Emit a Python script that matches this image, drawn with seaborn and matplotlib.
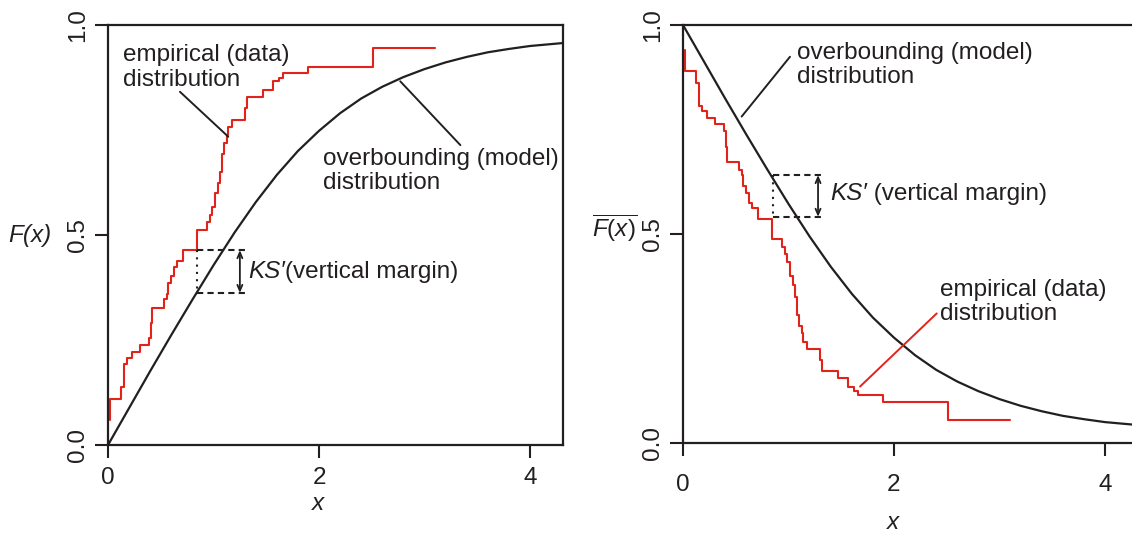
import numpy as np
import pandas as pd
import matplotlib
matplotlib.use("Agg")
import matplotlib.pyplot as plt
import seaborn as sns

# ---------------- data ----------------
model_x = [0.0, 0.2, 0.4, 0.6, 0.8, 1.0, 1.2, 1.4, 1.6, 1.8, 2.0, 2.2, 2.4,
           2.6, 2.8, 3.0, 3.2, 3.4, 3.6, 3.8, 4.0, 4.31]
model_F = [0.0, 0.088, 0.176, 0.262, 0.346, 0.428, 0.506, 0.578, 0.643, 0.700,
           0.748, 0.790, 0.825, 0.853, 0.876, 0.895, 0.911, 0.924, 0.935,
           0.943, 0.950, 0.957]

emp_x = [0.02, 0.02, 0.12, 0.152, 0.183, 0.23, 0.303, 0.392, 0.404, 0.42, 0.531,
         0.556, 0.572, 0.60, 0.626, 0.657, 0.708, 0.847, 0.941, 0.967, 0.989,
         1.014, 1.046, 1.06, 1.077, 1.10, 1.125, 1.14, 1.18, 1.30, 1.315, 1.472,
         1.561, 1.62, 1.656, 1.899, 2.515, 3.10]
emp_F = [0.06, 0.11, 0.139, 0.193, 0.206, 0.222, 0.237, 0.254, 0.291, 0.327,
         0.347, 0.359, 0.386, 0.402, 0.425, 0.438, 0.464, 0.513, 0.532, 0.548,
         0.567, 0.60, 0.623, 0.65, 0.694, 0.72, 0.738, 0.758, 0.775, 0.802,
         0.828, 0.845, 0.867, 0.875, 0.885, 0.901, 0.945, 0.945]

x_ticks = [0, 2, 4]
y_ticks = [0.0, 0.5, 1.0]
y_ticklabels = ["0.0", "0.5", "1.0"]

# complementary (exceedance) curves for the right panel
model_S = [1 - v for v in model_F]
emp_S = [1 - v for v in emp_F]

model_df = pd.DataFrame({"x": model_x, "F": model_F, "S": model_S})
emp_df = pd.DataFrame({"x": emp_x, "F": emp_F, "S": emp_S})

# ---------------- style ----------------
sns.set_theme(style="ticks")
plt.rcParams["font.family"] = ["Liberation Sans", "DejaVu Sans"]
plt.rcParams["mathtext.fontset"] = "custom"
plt.rcParams["mathtext.it"] = "Liberation Sans:italic"
plt.rcParams["mathtext.rm"] = "Liberation Sans"

INK = "#231f20"
RED = "#e2231a"
FS = 17.5
LS = 1.13

fig = plt.figure(figsize=(11.32, 5.37), dpi=100)
axL = fig.add_axes([108 / 1132, 92 / 537, 455 / 1132, 420 / 537])
axR = fig.add_axes([683 / 1132, 94 / 537, 449 / 1132, 418 / 537])

sns.lineplot(data=model_df, x="x", y="F", ax=axL, color=INK, lw=1.6,
             estimator=None, sort=False)
sns.lineplot(data=emp_df, x="x", y="F", ax=axL, color=RED, lw=1.5,
             estimator=None, sort=False, drawstyle="steps-post")
sns.lineplot(data=model_df, x="x", y="S", ax=axR, color=INK, lw=1.6,
             estimator=None, sort=False)
sns.lineplot(data=emp_df, x="x", y="S", ax=axR, color=RED, lw=1.5,
             estimator=None, sort=False, drawstyle="steps-post")

for ax, xmax, xpad in ((axL, 455 / 105.5, 6), (axR, 449 / 105.5, 13)):
    ax.set_xlim(0, xmax)
    ax.set_ylim(0, 1)
    ax.set_xticks(x_ticks)
    ax.set_xticklabels([str(t) for t in x_ticks])
    ax.set_yticks(y_ticks)
    ax.set_yticklabels(y_ticklabels, rotation=90, va="center")
    ax.tick_params(axis="both", direction="out", length=9.5, width=1.5,
                   colors=INK, labelsize=FS, labelcolor=INK)
    ax.tick_params(axis="x", pad=xpad)
    ax.tick_params(axis="y", pad=4)
    for s in ax.spines.values():
        s.set_linewidth(1.6)
        s.set_color(INK)

axR.spines["right"].set_visible(False)

# axis labels
axL.set_xlabel("x", fontsize=FS, style="italic", color=INK)
axL.xaxis.set_label_coords(0.4615, -0.14)
axL.xaxis.label.set_va("center")
axL.set_ylabel("F(x)", fontsize=FS, style="italic", color=INK, rotation=0,
               ha="center", va="center")
axL.yaxis.set_label_coords(-0.171, 0.498)

axR.set_xlabel("x", fontsize=FS, style="italic", color=INK)
axR.xaxis.set_label_coords(0.468, -0.189)
axR.xaxis.label.set_va("center")
axR.set_ylabel(r"$\overline{\mathit{F(x)}}$", fontsize=FS, color=INK,
               rotation=0, ha="center", va="center")
axR.yaxis.set_label_coords(-0.152, 0.514)

# ---------------- annotations: left ----------------
axL.text(0.14, 0.899, "empirical (data)\ndistribution", fontsize=FS, color=INK,
         ha="left", va="center", linespacing=LS)
axL.plot([0.682, 1.14], [0.841, 0.734], color=INK, lw=1.4)
axL.text(2.04, 0.652, "overbounding (model)\ndistribution", fontsize=FS,
         color=INK, ha="left", va="center", linespacing=LS)
axL.plot([2.77, 3.34], [0.866, 0.714], color=INK, lw=1.4)

axL.plot([0.847, 1.30], [0.464, 0.464], color=INK, lw=1.5, ls=(0, (3, 2)))
axL.plot([0.84, 1.30], [0.362, 0.362], color=INK, lw=1.5, ls=(0, (3, 2)))
axL.plot([0.847, 0.847], [0.464, 0.362], color=INK, lw=1.5, ls=(0, (1, 2.5)))
axL.annotate("", xy=(1.25, 0.464), xytext=(1.25, 0.362),
             arrowprops=dict(arrowstyle="<->,head_length=0.35,head_width=0.15",
                             color=INK, lw=1.3, shrinkA=0, shrinkB=0))
t1 = axL.text(1.33, 0.413, "KS\u2032", fontsize=FS, style="italic", color=INK,
              ha="left", va="center")
axL.annotate("(vertical margin)", xy=(1, 0), xycoords=t1, fontsize=FS,
             color=INK, ha="left", va="bottom")

# ---------------- annotations: right ----------------
axR.text(1.077, 0.905, "overbounding (model)\ndistribution", fontsize=FS,
         color=INK, ha="left", va="center", linespacing=LS)
axR.plot([1.014, 0.556], [0.924, 0.781], color=INK, lw=1.4)

axR.plot([0.856, 1.33], [0.641, 0.641], color=INK, lw=1.5, ls=(0, (3, 2)))
axR.plot([0.856, 1.33], [0.541, 0.541], color=INK, lw=1.5, ls=(0, (3, 2)))
axR.plot([0.856, 0.856], [0.641, 0.541], color=INK, lw=1.5, ls=(0, (1, 2.5)))
axR.annotate("", xy=(1.28, 0.641), xytext=(1.28, 0.541),
             arrowprops=dict(arrowstyle="<->,head_length=0.35,head_width=0.15",
                             color=INK, lw=1.3, shrinkA=0, shrinkB=0))
t2 = axR.text(1.393, 0.597, "KS\u2032", fontsize=FS, style="italic", color=INK,
              ha="left", va="center")
axR.annotate(" (vertical margin)", xy=(1, 0), xycoords=t2, fontsize=FS,
             color=INK, ha="left", va="bottom")

axR.text(2.436, 0.338, "empirical (data)\ndistribution", fontsize=FS, color=INK,
         ha="left", va="center", linespacing=LS)
axR.plot([2.405, 1.678], [0.310, 0.135], color=RED, lw=1.4)

fig.savefig("out.png", dpi=100)
